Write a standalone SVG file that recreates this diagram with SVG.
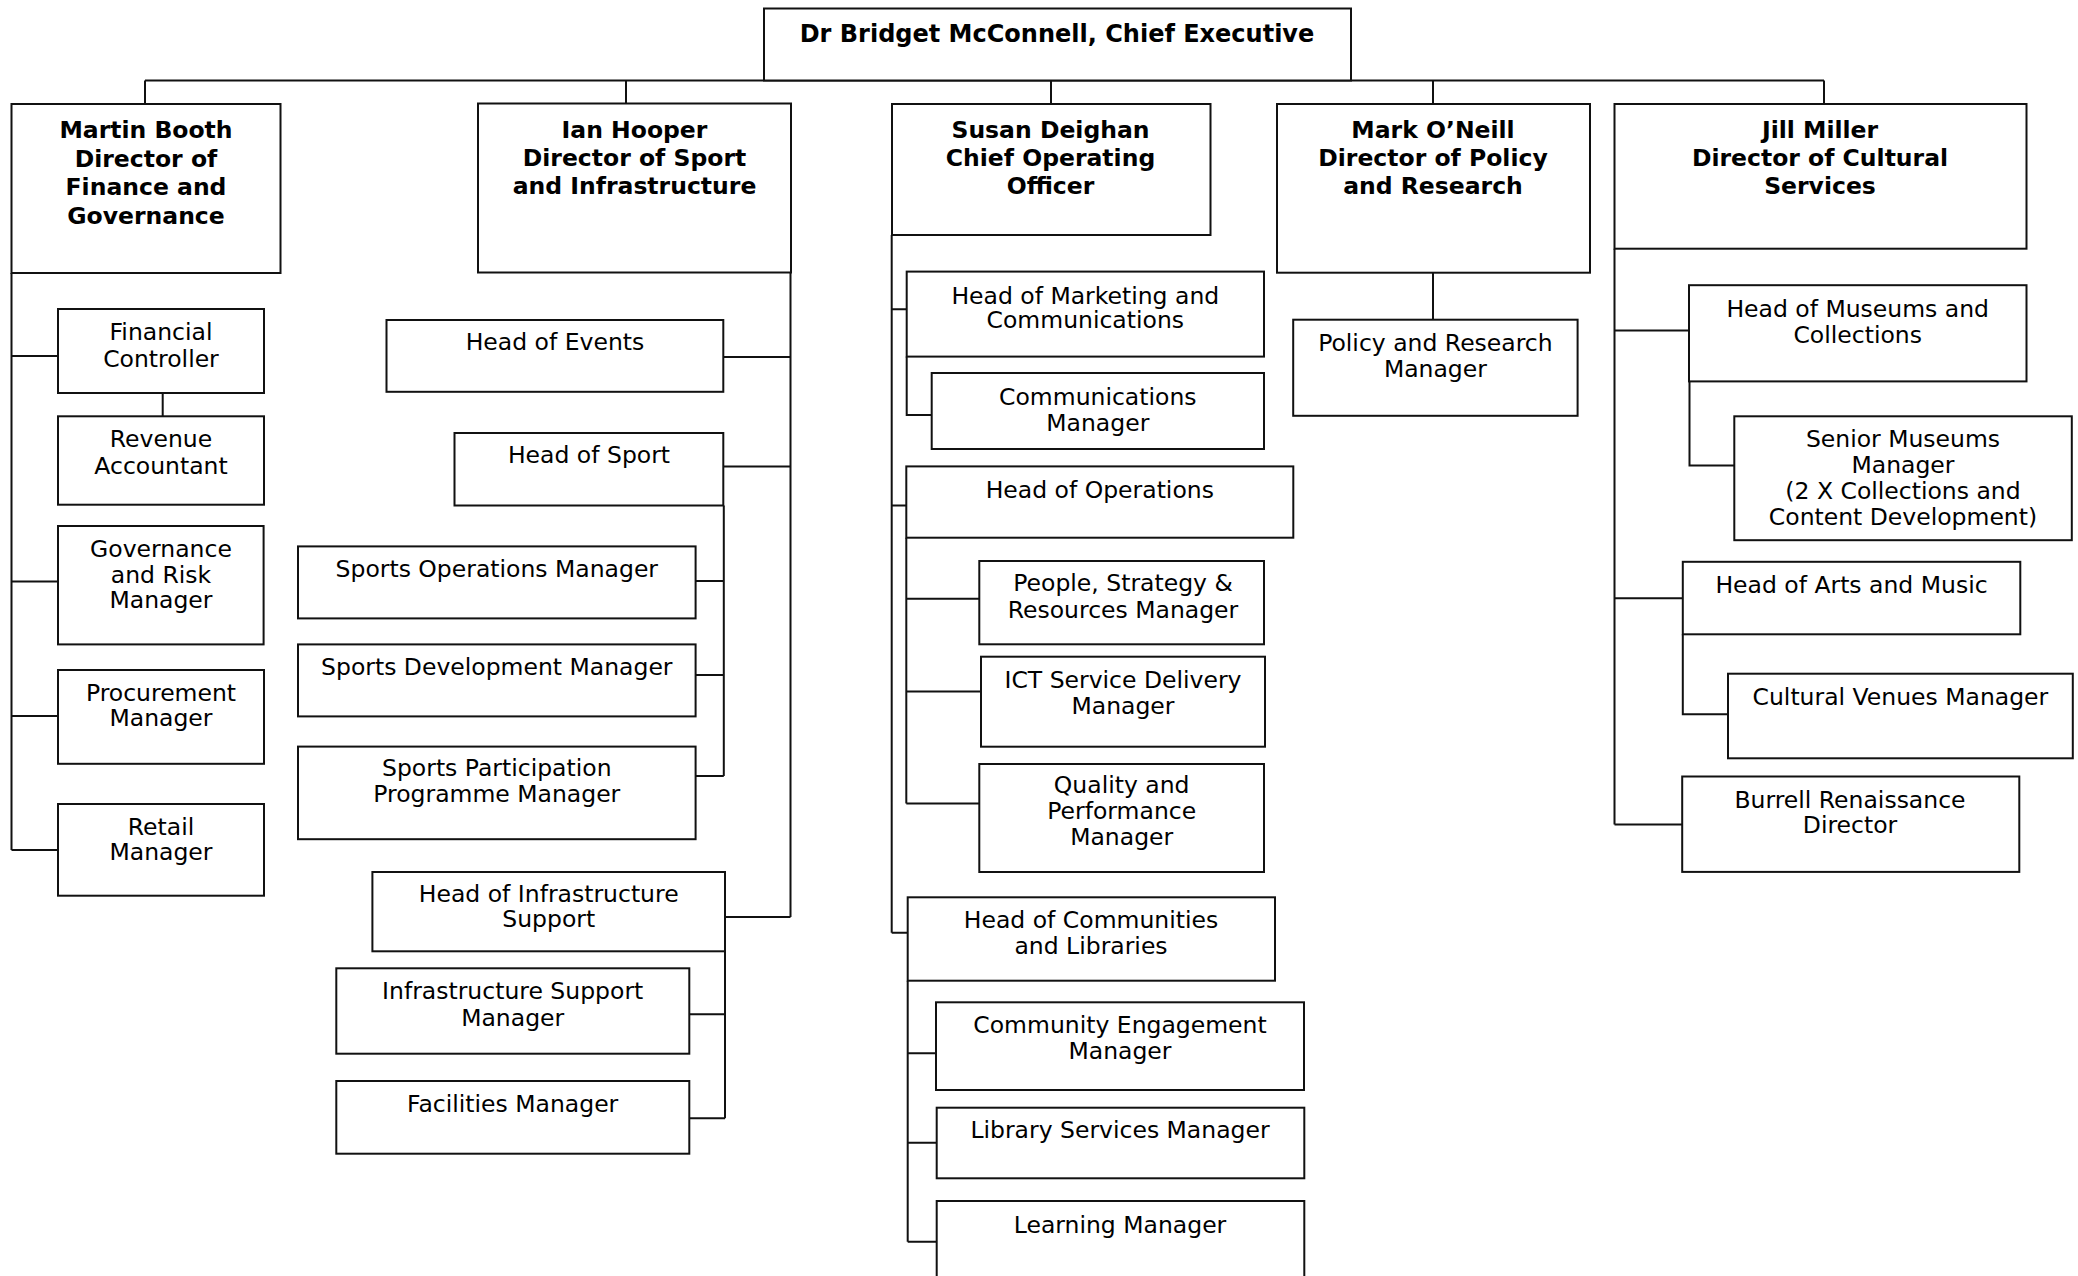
<svg xmlns="http://www.w3.org/2000/svg" width="2078" height="1276" viewBox="0 0 2078 1276">
<style>
.box{fill:#fff;stroke:#111;stroke-width:2}
.c{fill:none;stroke:#111;stroke-width:2}
text{font-family:"DejaVu Sans","Liberation Sans",sans-serif;font-size:23.5px;text-anchor:middle;fill:#000}
.b{font-weight:bold}
</style>
<rect x="0" y="0" width="2078" height="1276" fill="#fff"/>
<g id="connectors">
<path class="c" d="M145,80.5H1824 M145,80.5V104 M626,80.5V104 M1051,80.5V104 M1433,80.5V104 M1824,80.5V104"/>
<path class="c" d="M11.5,273V850 M11.5,356H58 M10.5,581.6H58 M11.5,716H58 M11.5,850H58 M162.7,393V416.3"/>
<path class="c" d="M790.5,272.5V917 M723.3,357H790.5 M723.3,466.4H790.5 M725,917H790.5 M723.8,505.5V776 M695.6,581H723.8 M695.6,675H723.8 M695.6,776H723.8 M725,951.3V1118.3 M689.3,1014.3H725 M689.3,1118.3H725"/>
<path class="c" d="M891.7,235V932.7 M891.7,309.3H906.7 M891.7,505.4H906.3 M891.7,932.7H907.7 M906.7,356.6V415H931.7 M906.3,537.7V803.5 M906.3,598.7H979.3 M906.3,691.5H981 M906.3,803.5H979.3 M907.7,980.7V1241.7 M907.7,1053.3H936 M907.7,1142.7H936.7 M907.7,1241.7H936.7"/>
<path class="c" d="M1433,272.7V319.7"/>
<path class="c" d="M1614.5,248.7V824.6 M1614.5,330.4H1689 M1614.5,598.3H1682.8 M1614.5,824.6H1682.2 M1689.5,381.4V465.6H1734.3 M1682.8,634.3V714.3H1728"/>
</g>
<g id="ceo"><rect class="box" x="764" y="8.5" width="587" height="72"/><text class="b" x="1057" y="41.7" style="font-size:24px">Dr Bridget McConnell, Chief Executive</text></g>
<g id="martin-booth"><rect class="box" x="11.5" y="104" width="269" height="169"/><text class="b" x="146" y="137.7">Martin Booth</text><text class="b" x="146" y="166.5">Director of</text><text class="b" x="146" y="195">Finance and</text><text class="b" x="146" y="223.5">Governance</text></g>
<g id="ian-hooper"><rect class="box" x="478" y="103.5" width="313" height="169"/><text class="b" x="634.5" y="137.7">Ian Hooper</text><text class="b" x="634.5" y="165.7">Director of Sport</text><text class="b" x="634.5" y="194">and Infrastructure</text></g>
<g id="susan-deighan"><rect class="box" x="892" y="104" width="318.5" height="131"/><text class="b" x="1050.5" y="137.7">Susan Deighan</text><text class="b" x="1050.5" y="165.7">Chief Operating</text><text class="b" x="1050.5" y="194">Officer</text></g>
<g id="mark-oneill"><rect class="box" x="1277" y="104" width="313" height="168.7"/><text class="b" x="1433" y="137.7">Mark O’Neill</text><text class="b" x="1433" y="165.7">Director of Policy</text><text class="b" x="1433" y="194">and Research</text></g>
<g id="jill-miller"><rect class="box" x="1614.5" y="104" width="412" height="144.7"/><text class="b" x="1820" y="137.7">Jill Miller</text><text class="b" x="1820" y="165.7">Director of Cultural</text><text class="b" x="1820" y="194">Services</text></g>
<g id="financial-controller"><rect class="box" x="58" y="309" width="206" height="84"/><text x="161" y="339.8">Financial</text><text x="161" y="366.5">Controller</text></g>
<g id="revenue-accountant"><rect class="box" x="58" y="416.3" width="206" height="88.4"/><text x="161" y="446.9">Revenue</text><text x="161" y="473.7">Accountant</text></g>
<g id="governance-risk"><rect class="box" x="58" y="526" width="205.6" height="118.4"/><text x="161" y="556.7">Governance</text><text x="161" y="582.8">and Risk</text><text x="161" y="608.4">Manager</text></g>
<g id="procurement"><rect class="box" x="58" y="670" width="206" height="93.8"/><text x="161" y="700.6">Procurement</text><text x="161" y="726.3">Manager</text></g>
<g id="retail"><rect class="box" x="58" y="804" width="206" height="91.7"/><text x="161" y="834.6">Retail</text><text x="161" y="860.2">Manager</text></g>
<g id="head-events"><rect class="box" x="386.5" y="320" width="336.8" height="71.8"/><text x="555" y="350">Head of Events</text></g>
<g id="head-sport"><rect class="box" x="454.5" y="433" width="268.8" height="72.5"/><text x="589" y="463">Head of Sport</text></g>
<g id="sports-operations"><rect class="box" x="298" y="546.4" width="397.6" height="72"/><text x="496.8" y="577">Sports Operations Manager</text></g>
<g id="sports-development"><rect class="box" x="298" y="644.4" width="397.6" height="72"/><text x="496.8" y="674.6">Sports Development Manager</text></g>
<g id="sports-participation"><rect class="box" x="298" y="746.6" width="397.6" height="92.6"/><text x="496.8" y="776">Sports Participation</text><text x="496.8" y="802">Programme Manager</text></g>
<g id="head-infrastructure"><rect class="box" x="372.4" y="872" width="352.6" height="79.3"/><text x="548.7" y="901.7">Head of Infrastructure</text><text x="548.7" y="927.3">Support</text></g>
<g id="infrastructure-support"><rect class="box" x="336.3" y="968.3" width="353" height="85.4"/><text x="512.7" y="999">Infrastructure Support</text><text x="512.7" y="1025.7">Manager</text></g>
<g id="facilities"><rect class="box" x="336.3" y="1081" width="353" height="72.7"/><text x="512.7" y="1112.3">Facilities Manager</text></g>
<g id="head-marketing"><rect class="box" x="906.7" y="271.6" width="357.3" height="85"/><text x="1085.3" y="303.9">Head of Marketing and</text><text x="1085.3" y="328">Communications</text></g>
<g id="communications-manager"><rect class="box" x="931.7" y="373" width="332.3" height="76"/><text x="1097.8" y="404.6">Communications</text><text x="1097.8" y="431.2">Manager</text></g>
<g id="head-operations"><rect class="box" x="906.3" y="466.4" width="387" height="71.3"/><text x="1099.8" y="497.9">Head of Operations</text></g>
<g id="people-strategy"><rect class="box" x="979.3" y="561" width="284.7" height="83.3"/><text x="1123" y="591.2">People, Strategy &amp;</text><text x="1123" y="617.7">Resources Manager</text></g>
<g id="ict"><rect class="box" x="981" y="656.7" width="284" height="90"/><text x="1123" y="688.2">ICT Service Delivery</text><text x="1123" y="714.3">Manager</text></g>
<g id="quality"><rect class="box" x="979.3" y="764" width="284.7" height="108"/><text x="1121.7" y="793.1">Quality and</text><text x="1121.7" y="819.2">Performance</text><text x="1121.7" y="845.4">Manager</text></g>
<g id="head-communities"><rect class="box" x="907.7" y="897.3" width="367.3" height="83.4"/><text x="1091" y="927.7">Head of Communities</text><text x="1091" y="954.3">and Libraries</text></g>
<g id="community-engagement"><rect class="box" x="936" y="1002.3" width="368" height="87.7"/><text x="1120" y="1032.7">Community Engagement</text><text x="1120" y="1059">Manager</text></g>
<g id="library-services"><rect class="box" x="936.7" y="1107.7" width="367.6" height="70.6"/><text x="1120" y="1138.3">Library Services Manager</text></g>
<g id="learning"><rect class="box" x="936.7" y="1201" width="367.6" height="100"/><text x="1120" y="1232.7">Learning Manager</text></g>
<g id="policy-research"><rect class="box" x="1293.2" y="319.7" width="284.4" height="96.1"/><text x="1435.4" y="350.7">Policy and Research</text><text x="1435.4" y="376.5">Manager</text></g>
<g id="head-museums"><rect class="box" x="1689" y="285.2" width="337.5" height="96.2"/><text x="1857.7" y="317.2">Head of Museums and</text><text x="1857.7" y="343.3">Collections</text></g>
<g id="senior-museums"><rect class="box" x="1734.3" y="416.3" width="337.5" height="123.9"/><text x="1903" y="446.9">Senior Museums</text><text x="1903" y="472.6">Manager</text><text x="1903" y="498.8">(2 X Collections and</text><text x="1903" y="524.5">Content Development)</text></g>
<g id="head-arts"><rect class="box" x="1682.8" y="561.8" width="337.5" height="72.5"/><text x="1851.5" y="593.3">Head of Arts and Music</text></g>
<g id="cultural-venues"><rect class="box" x="1728" y="673.7" width="344.8" height="84.6"/><text x="1900.4" y="705.2">Cultural Venues Manager</text></g>
<g id="burrell"><rect class="box" x="1682.2" y="776.5" width="337.1" height="95.4"/><text x="1850" y="807.6">Burrell Renaissance</text><text x="1850" y="832.5">Director</text></g>
</svg>
